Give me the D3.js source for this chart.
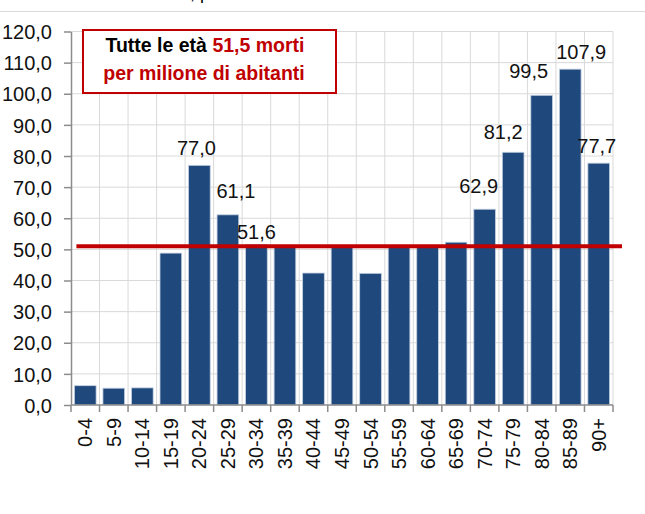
<!DOCTYPE html>
<meta charset="utf-8">
<style>
body { margin: 0; background: #fff; }
svg text { font-family: "Liberation Sans Narrow", "Arial Narrow", "Liberation Sans", Arial, sans-serif; }
.grid line { stroke: #d9d9d9; stroke-width: 1; }
.axis line, .axis path { stroke: #8c8c8c; stroke-width: 1.5; }
</style>
<body>
<svg width="645" height="514"></svg>
<script src="https://cdn.jsdelivr.net/npm/d3@7"></script>
<script>

// age classes and deaths per million inhabitants
var ageClasses = ["0-4","5-9","10-14","15-19","20-24","25-29","30-34","35-39","40-44","45-49",
                  "50-54","55-59","60-64","65-69","70-74","75-79","80-84","85-89","90+"];
var deathRate = [6.2, 5.4, 5.5, 48.8, 77.0, 61.1, 51.6, 51.0, 42.4, 50.9,
                 42.3, 50.6, 50.8, 52.3, 62.9, 81.2, 99.5, 107.9, 77.7];
// bars that carry a value label
var labelled = ["20-24","25-29","30-34","70-74","75-79","80-84","85-89","90+"];
var yTicks = [0,10,20,30,40,50,60,70,80,90,100,110,120];
var overallRate = 51.0;

// hand placement of the value labels, as in the original: [dx, gap above the bar]
var labelNudge = {
  "20-24": [-3, 10], "25-29": [8, 17], "30-34": [0, 5], "70-74": [-6, 16],
  "75-79": [-10, 13], "80-84": [-13, 17], "85-89": [11, 10], "90+": [-2, 10]
};

var svg = d3.select("svg");

// the snippet of the cut title and the separator line above the chart
svg.append("text").attr("x", 190).attr("y", -1).attr("font-size", 18).text(", p");
svg.append("line").attr("x1", 0).attr("x2", 645).attr("y1", 11.5).attr("y2", 11.5)
    .attr("stroke", "#d9d9d9");

var x = d3.scaleBand()
    .domain(ageClasses)
    .range([71, 613])
    .paddingInner(0.24)
    .paddingOuter(0.12);

var y = d3.scaleLinear()
    .domain([0, 120])
    .range([405, 31.5]);

var fmt = function(v) { return d3.format(".1f")(v).replace(".", ","); };

// grid
var grid = svg.append("g").attr("class", "grid");
grid.selectAll("line.h")
  .data(yTicks.slice(1))
  .enter().append("line")
    .attr("x1", x.range()[0]).attr("x2", x.range()[1])
    .attr("y1", function(d) { return y(d); }).attr("y2", function(d) { return y(d); });
grid.selectAll("line.v")
  .data(d3.range(1, ageClasses.length + 1))
  .enter().append("line")
    .attr("x1", function(i) { return x.range()[0] + i * x.step(); })
    .attr("x2", function(i) { return x.range()[0] + i * x.step(); })
    .attr("y1", y(120)).attr("y2", y(0));

// bars
svg.append("g").selectAll("rect")
  .data(ageClasses)
  .enter().append("rect")
    .attr("x", function(d) { return x(d); })
    .attr("width", x.bandwidth())
    .attr("y", function(d, i) { return y(deathRate[i]); })
    .attr("height", function(d, i) { return y(0) - y(deathRate[i]); })
    .attr("fill", "#1f487c")
    .attr("stroke", "#c3d0e2")
    .attr("stroke-width", 0.8);

// y axis
var yAxis = svg.append("g").attr("class", "axis")
    .attr("transform", "translate(" + x.range()[0] + ",0)")
    .call(d3.axisLeft(y).tickValues(yTicks).tickFormat(fmt).tickSize(7).tickSizeOuter(0));
yAxis.select(".domain").attr("stroke", "#8c8c8c");
yAxis.selectAll("text").attr("font-size", 20).attr("fill", "#111").attr("x", -19).attr("dy", "0.36em");

// x axis with ticks at the category boundaries
var xAxis = svg.append("g").attr("class", "axis");
xAxis.append("line")
    .attr("x1", x.range()[0]).attr("x2", x.range()[1])
    .attr("y1", y(0)).attr("y2", y(0));
xAxis.selectAll("line.t")
  .data(d3.range(0, ageClasses.length + 1))
  .enter().append("line")
    .attr("x1", function(i) { return x.range()[0] + i * x.step(); })
    .attr("x2", function(i) { return x.range()[0] + i * x.step(); })
    .attr("y1", y(0)).attr("y2", y(0) + 7);
svg.append("g").selectAll("text")
  .data(ageClasses)
  .enter().append("text")
    .attr("transform", function(d) {
      return "translate(" + (x(d) + x.bandwidth() / 2 + 7) + "," + (y(0) + 13) + ") rotate(-90)";
    })
    .attr("text-anchor", "end")
    .attr("font-size", 20)
    .attr("fill", "#111")
    .text(function(d) { return d; });

// overall rate line
svg.append("line")
    .attr("x1", x(ageClasses[0]) + 2)
    .attr("x2", x.range()[1] + 9)
    .attr("y1", y(overallRate)).attr("y2", y(overallRate))
    .attr("stroke", "#c00000")
    .attr("stroke-width", 4);

// value labels
svg.append("g").selectAll("text")
  .data(ageClasses.filter(function(d) { return labelled.indexOf(d) >= 0; }))
  .enter().append("text")
    .attr("x", function(d) { return x(d) + x.bandwidth() / 2 + labelNudge[d][0]; })
    .attr("y", function(d) { return y(deathRate[ageClasses.indexOf(d)]) - labelNudge[d][1]; })
    .attr("text-anchor", "middle")
    .attr("font-size", 20)
    .attr("fill", "#111")
    .text(function(d) { return fmt(deathRate[ageClasses.indexOf(d)]); });

// annotation box
var note = svg.append("g").style("font-family", "'Liberation Sans', Arial, sans-serif");
note.append("rect")
    .attr("x", 83).attr("y", 30).attr("width", 253).attr("height", 63)
    .attr("fill", "#fff").attr("stroke", "#c00000").attr("stroke-width", 2);
var t1 = note.append("text").attr("x", 205).attr("y", 52).attr("text-anchor", "middle")
    .attr("font-size", 19.5).attr("font-weight", "bold");
t1.append("tspan").attr("fill", "#000").text("Tutte le età ");
t1.append("tspan").attr("fill", "#c00000").text("51,5 morti");
note.append("text").attr("x", 204).attr("y", 80).attr("text-anchor", "middle")
    .attr("font-size", 19.5).attr("font-weight", "bold").attr("fill", "#c00000")
    .text("per milione di abitanti");

</script>
</body>
